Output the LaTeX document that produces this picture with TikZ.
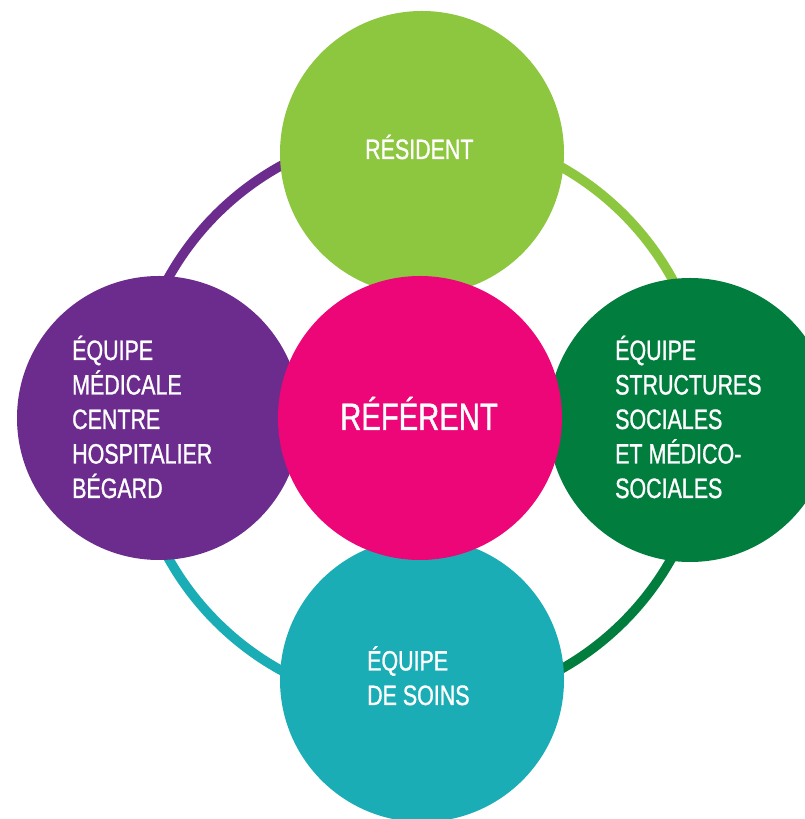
\documentclass[tikz,border=0pt]{standalone}
\usepackage{fontspec}
\setmainfont[FakeStretch=0.765, FakeBold=1]{Liberation Sans}
\usetikzlibrary{positioning, calc}

\definecolor{resgreen}{HTML}{8DC63F}
\definecolor{refpink}{HTML}{EC0677}
\definecolor{medpurple}{HTML}{6C2C8E}
\definecolor{socgreen}{HTML}{017E3E}
\definecolor{soinsteal}{HTML}{1BADB5}

\begin{document}
\begin{tikzpicture}[
  x=1pt, y=1pt,
  disc/.style={circle, minimum size=284pt, inner sep=0pt},
  lbl/.style={text=white, align=left, inner sep=0pt,
              font=\fontsize{28}{34.5}\selectfont},
  biglbl/.style={text=white, inner sep=0pt,
                 font=\fontsize{38.2}{40}\selectfont},
  ring/.style={line width=9.5pt},
]
\useasboundingbox (0,0) rectangle (805,819);

%% Centre of the ring
\coordinate (mid) at (420,401);

%% Ring, one arc per team
\draw[ring, medpurple] ($(mid)+(180:288)$) arc[start angle=180, end angle=90, radius=288];
\draw[ring, resgreen]  ($(mid)+(90:288)$)  arc[start angle=90, end angle=0, radius=288];
\draw[ring, socgreen]  ($(mid)+(0:288)$)   arc[start angle=0, end angle=-90, radius=288];
\draw[ring, soinsteal] ($(mid)+(-90:288)$) arc[start angle=-90, end angle=-180, radius=288];

%% Outer discs
\node[disc, fill=resgreen]  (res)   at (422,666) {};
\node[disc, fill=medpurple] (med)   at (159,401) {};
\node[disc, fill=socgreen]  (soc)   at (690,399) {};
\node[disc, fill=soinsteal] (soins) at (422,139) {};

%% Referent on top
\node[disc, fill=refpink] (ref) at (mid) {};

%% Labels (base = last line)
\node[lbl, anchor=base west] (restxt) at (365,660) {RÉSIDENT};
\node[lbl, anchor=base west] (medtxt) at (72,321)
  {ÉQUIPE\\MÉDICALE\\CENTRE\\HOSPITALIER\\BÉGARD};
\node[lbl, anchor=base west] (soctxt) at (615,321)
  {ÉQUIPE\\STRUCTURES\\SOCIALES\\ET MÉDICO-\\SOCIALES};
\node[lbl, anchor=base west] (soinstxt) at (367,114) {ÉQUIPE\\DE SOINS};
\node[biglbl, anchor=base] (reftxt) at (419,389) {RÉFÉRENT};

\end{tikzpicture}
\end{document}
